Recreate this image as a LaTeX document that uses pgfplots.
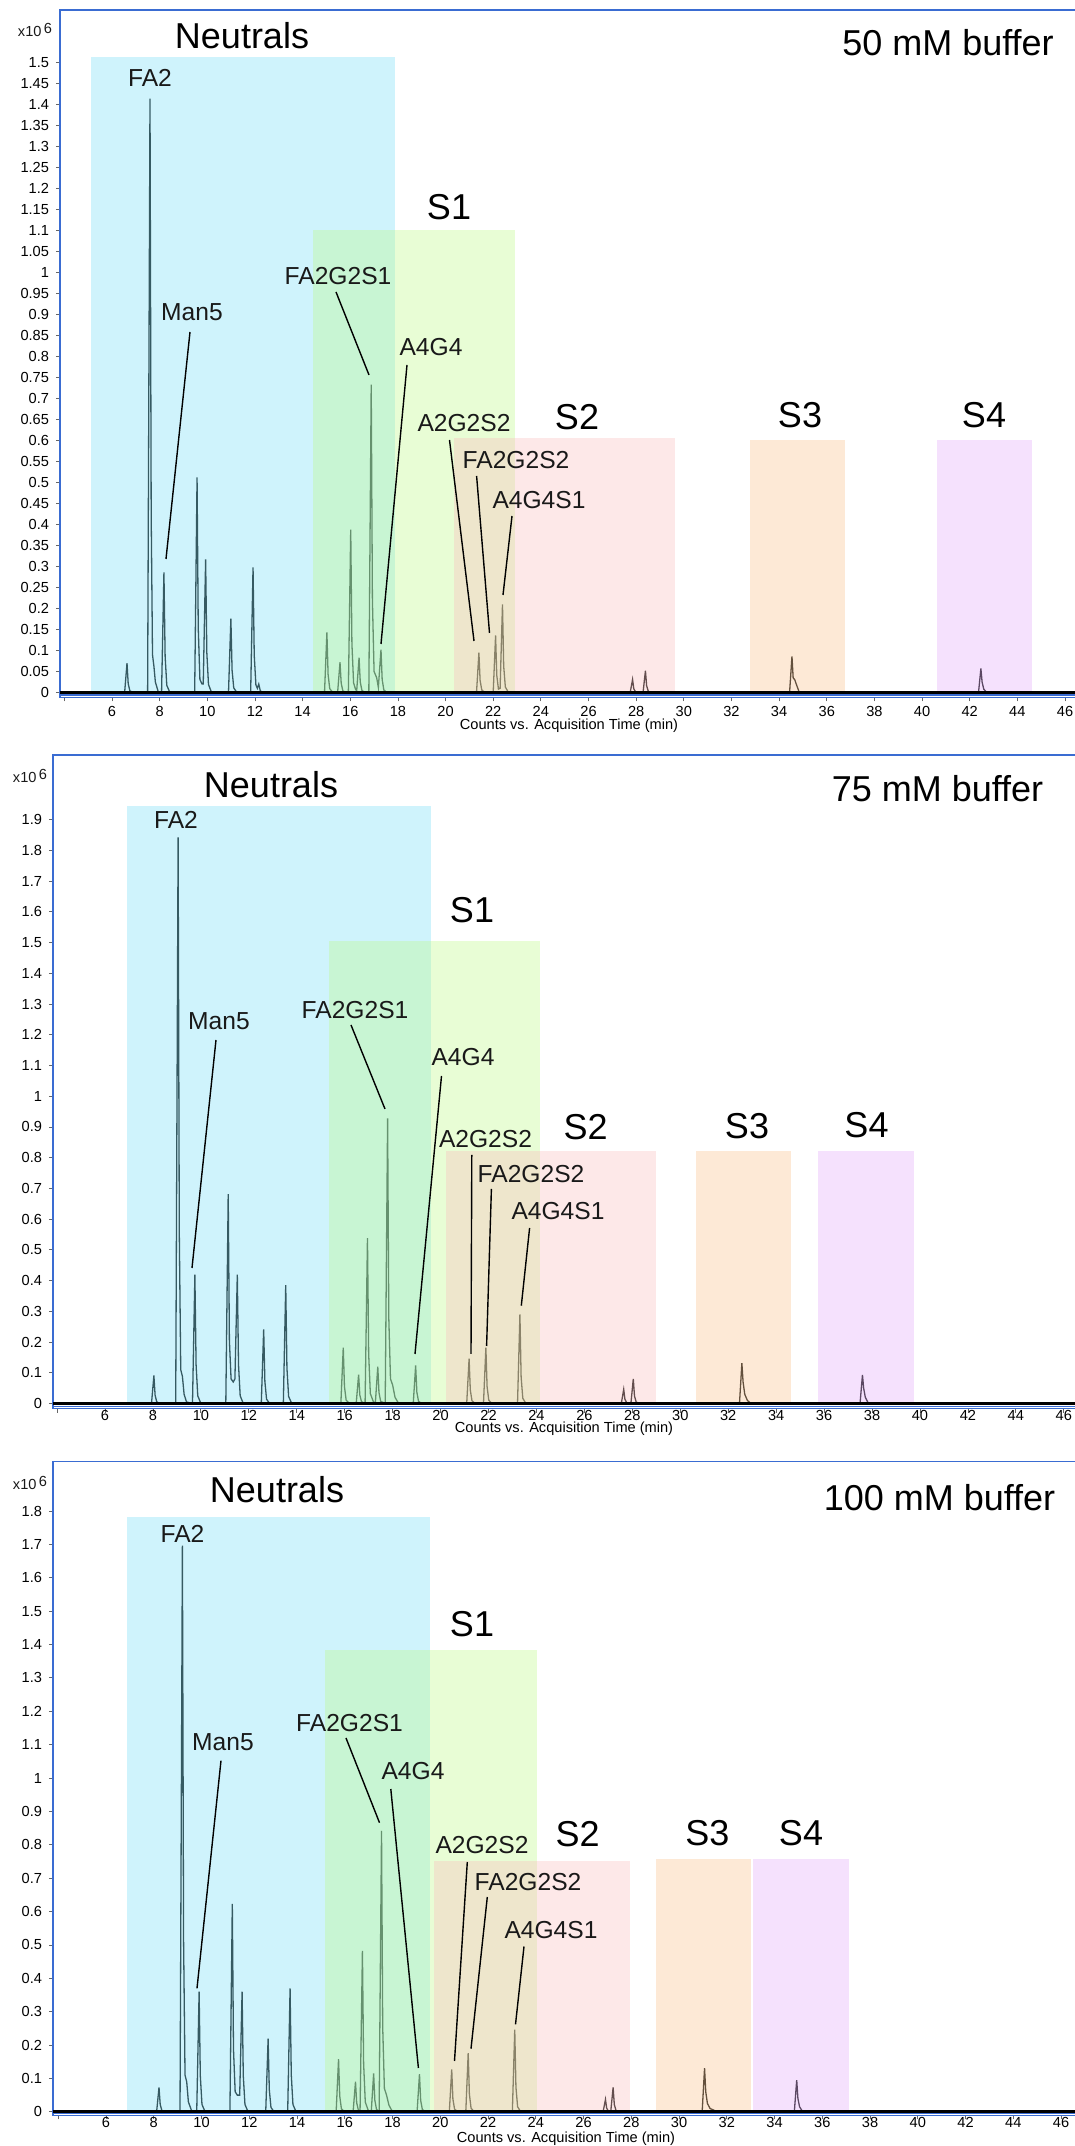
\documentclass[border=0pt]{standalone}
\usepackage{pgfplots}
\pgfplotsset{compat=1.18}
\usepackage{fontspec}
\setmainfont{Liberation Sans}
\definecolor{frameblue}{RGB}{58,108,210}
\definecolor{trace}{RGB}{20,20,20}
\definecolor{cN}{RGB}{118,221,246}
\definecolor{cSa}{RGB}{189,249,135}
\definecolor{cSb}{RGB}{249,189,189}
\definecolor{cSc}{RGB}{249,192,138}
\definecolor{cSd}{RGB}{226,169,249}
\definecolor{txt}{RGB}{25,25,25}
\newcommand{\pk}{\fontsize{12.3}{14}\selectfont}
\newcommand{\bg}{\fontsize{18}{20}\selectfont}
\newcommand{\sm}{\fontsize{7.3}{8}\selectfont}
\pgfplotsset{panel/.style={
  scale only axis, anchor=south west,
  axis line style={draw=frameblue, line width=0.7pt},
  tick align=outside, xtick pos=bottom, ytick pos=left,
  major tick length=2pt,
  tick style={black!60, line width=0.4pt},
  xtick={4,6,8,10,12,14,16,18,20,22,24,26,28,30,32,34,36,38,40,42,44,46},
  xticklabels={,6,8,10,12,14,16,18,20,22,24,26,28,30,32,34,36,38,40,42,44,46},
  tick label style={font=\sm, text=black},
  /pgf/number format/assume math mode=true,
  scaled ticks=false,
}}
\begin{document}
\begin{tikzpicture}
\useasboundingbox (0,0) rectangle (537.5pt,1073pt);

% ---------------- Panel 1: 50 mM ----------------
\begin{axis}[panel, at={(30pt,724.35pt)}, width=508.5pt, height=343.65pt,
  xmin=3.8174, xmax=46.504, ymin=-0.0114, ymax=1.625,
  xticklabel style={inner sep=0.5pt, yshift=-1.9pt},
  ytick={0,0.05,0.1,0.15,0.2,0.25,0.3,0.35,0.4,0.45,0.5,0.55,0.6,0.65,0.7,0.75,0.8,0.85,0.9,0.95,1,1.05,1.1,1.15,1.2,1.25,1.3,1.35,1.4,1.45,1.5},
  yticklabels={0,0.05,0.1,0.15,0.2,0.25,0.3,0.35,0.4,0.45,0.5,0.55,0.6,0.65,0.7,0.75,0.8,0.85,0.9,0.95,1,1.05,1.1,1.15,1.2,1.25,1.3,1.35,1.4,1.45,1.5}]
\addplot[trace, line width=0.65pt] coordinates {
(3.82,0)
(6.53,0)(6.63,0.070)(6.68,0.021)(6.75,0.004)(6.88,0)
(7.495,0)(7.595,1.414)(7.645,0.424)(7.70,0.09)(7.76,0.062)(7.82,0.025)(7.95,0)
(8.08,0)(8.18,0.286)(8.23,0.086)(8.30,0.017)(8.43,0)
(9.47,0)(9.57,0.512)(9.62,0.154)(9.69,0.031)(9.78,0.02)(9.83,0.02)(9.93,0.317)(9.98,0.095)(10.05,0.019)(10.18,0)
(10.89,0)(10.99,0.176)(11.04,0.053)(11.11,0.011)(11.24,0)
(11.82,0)(11.92,0.298)(11.97,0.089)(12.04,0.018)(12.10,0.01)(12.16,0.02)(12.22,0.005)(12.3,0)
(14.92,0)(15.02,0.143)(15.07,0.043)(15.14,0.009)(15.27,0)
(15.47,0)(15.57,0.072)(15.62,0.022)(15.69,0.004)(15.82,0)
(15.92,0)(16.02,0.388)(16.07,0.116)(16.14,0.023)(16.22,0.008)
(16.27,0.004)(16.37,0.083)(16.42,0.025)(16.49,0.005)(16.62,0)
(16.78,0)(16.88,0.733)(16.93,0.22)(17.00,0.05)(17.11,0.035)(17.18,0.012)
(17.29,0.102)(17.34,0.031)(17.41,0.006)(17.54,0)
(21.3,0)(21.4,0.095)(21.45,0.029)(21.52,0.006)(21.65,0)
(22.0,0)(22.1,0.136)(22.15,0.041)(22.22,0.008)(22.29,0.01)
(22.39,0.21)(22.44,0.063)(22.51,0.013)(22.64,0)
(27.75,0)(27.85,0.031)(27.9,0.009)(27.97,0.002)(28.1,0)
(28.29,0)(28.39,0.052)(28.44,0.016)(28.51,0.003)(28.64,0)
(34.44,0)(34.54,0.086)(34.59,0.035)(34.66,0.03)(34.72,0.02)(34.85,0)
(42.37,0)(42.47,0.057)(42.52,0.025)(42.59,0.008)(42.72,0)
(46.5,0)};
\fill[cN, fill opacity=0.35] (axis cs:5.119,0) rectangle (axis cs:17.878,1.513);
\fill[cSa, fill opacity=0.35] (axis cs:14.437,0) rectangle (axis cs:22.915,1.101);
\fill[cSb, fill opacity=0.35] (axis cs:20.355,0) rectangle (axis cs:29.634,0.606);
\fill[cSc, fill opacity=0.35] (axis cs:32.779,0) rectangle (axis cs:36.766,0.601);
\fill[cSd, fill opacity=0.35] (axis cs:40.628,0) rectangle (axis cs:44.594,0.601);
\addplot[black, line width=1.5pt] coordinates {(3.8174,0)(46.504,0)};
\end{axis}

% ---------------- Panel 2: 75 mM ----------------
\begin{axis}[panel, at={(26.5pt,368.65pt)}, width=512pt, height=326.85pt,
  xmin=3.8306, xmax=46.551, ymin=-0.0169, ymax=2.1103,
  xticklabel style={inner sep=0.5pt, yshift=1.8pt},
  ytick={0,0.1,0.2,0.3,0.4,0.5,0.6,0.7,0.8,0.9,1,1.1,1.2,1.3,1.4,1.5,1.6,1.7,1.8,1.9},
  yticklabels={0,0.1,0.2,0.3,0.4,0.5,0.6,0.7,0.8,0.9,1,1.1,1.2,1.3,1.4,1.5,1.6,1.7,1.8,1.9}]
\addplot[trace, line width=0.65pt] coordinates {
(3.83,0)
(7.94,0)(8.04,0.091)(8.09,0.027)(8.16,0.005)(8.29,0)
(8.95,0)(9.05,1.842)(9.10,0.553)(9.16,0.11)(9.23,0.088)(9.30,0.03)(9.40,0.005)
(9.65,0)(9.75,0.419)(9.80,0.126)(9.87,0.025)(10.0,0)
(11.04,0)(11.14,0.681)(11.19,0.204)(11.26,0.08)(11.35,0.07)(11.42,0.08)
(11.52,0.419)(11.57,0.126)(11.64,0.025)(11.77,0)
(12.52,0)(12.62,0.241)(12.67,0.072)(12.74,0.014)(12.87,0)
(13.44,0)(13.54,0.385)(13.59,0.116)(13.66,0.023)(13.79,0)
(15.84,0)(15.94,0.182)(15.99,0.055)(16.06,0.011)(16.19,0)
(16.48,0)(16.58,0.094)(16.63,0.028)(16.70,0.006)(16.78,0.003)
(16.85,0)(16.95,0.538)(17.00,0.161)(17.07,0.032)(17.2,0.005)
(17.28,0.003)(17.38,0.12)(17.43,0.036)(17.5,0.007)(17.62,0.003)
(17.69,0)(17.79,0.928)(17.84,0.278)(17.91,0.08)(18.0,0.06)(18.1,0.02)(18.25,0)
(18.86,0)(18.96,0.124)(19.01,0.037)(19.08,0.007)(19.21,0)
(21.09,0)(21.19,0.146)(21.24,0.044)(21.31,0.009)(21.44,0)
(21.79,0)(21.89,0.182)(21.94,0.055)(22.01,0.011)(22.14,0)
(23.21,0)(23.31,0.29)(23.36,0.087)(23.43,0.017)(23.56,0)
(27.54,0)(27.64,0.046)(27.69,0.014)(27.76,0.003)(27.86,0.002)
(27.94,0)(28.04,0.08)(28.09,0.024)(28.16,0.005)(28.29,0)
(32.47,0)(32.57,0.131)(32.62,0.07)(32.69,0.03)(32.8,0.01)(32.95,0)
(37.5,0)(37.6,0.093)(37.65,0.05)(37.72,0.02)(37.85,0)
(46.55,0)};
\fill[cN, fill opacity=0.35] (axis cs:6.93,0) rectangle (axis cs:19.58,1.944);
\fill[cSa, fill opacity=0.35] (axis cs:15.34,0) rectangle (axis cs:24.13,1.505);
\fill[cSb, fill opacity=0.35] (axis cs:20.23,0) rectangle (axis cs:28.98,0.822);
\fill[cSc, fill opacity=0.35] (axis cs:30.66,0) rectangle (axis cs:34.61,0.822);
\fill[cSd, fill opacity=0.35] (axis cs:35.75,0) rectangle (axis cs:39.73,0.822);
\addplot[black, line width=1.5pt] coordinates {(3.8306,0)(46.551,0)};
\end{axis}

% ---------------- Panel 3: 100 mM ----------------
\begin{axis}[panel, at={(26.5pt,15.35pt)}, width=512pt, height=326.85pt,
  xmin=3.780, xmax=46.67, ymin=-0.0105, ymax=1.948,
  xticklabel style={inner sep=0.5pt, yshift=1.8pt},
  ytick={0,0.1,0.2,0.3,0.4,0.5,0.6,0.7,0.8,0.9,1,1.1,1.2,1.3,1.4,1.5,1.6,1.7,1.8},
  yticklabels={0,0.1,0.2,0.3,0.4,0.5,0.6,0.7,0.8,0.9,1,1.1,1.2,1.3,1.4,1.5,1.6,1.7,1.8}]
\addplot[trace, line width=0.65pt] coordinates {
(3.78,0)
(8.12,0)(8.22,0.073)(8.27,0.022)(8.34,0.004)(8.47,0)
(9.10,0)(9.20,1.696)(9.25,0.509)(9.31,0.11)(9.38,0.09)(9.45,0.03)(9.6,0)
(9.80,0)(9.90,0.36)(9.95,0.108)(10.02,0.022)(10.15,0)
(11.19,0)(11.29,0.623)(11.34,0.187)(11.41,0.06)(11.50,0.05)(11.6,0.05)
(11.70,0.36)(11.75,0.108)(11.82,0.022)(11.95,0)
(12.69,0)(12.79,0.219)(12.84,0.066)(12.91,0.013)(13.04,0)
(13.61,0)(13.71,0.37)(13.76,0.111)(13.83,0.022)(13.96,0)
(15.64,0)(15.74,0.158)(15.79,0.047)(15.86,0.009)(15.99,0)
(16.35,0)(16.45,0.09)(16.5,0.027)(16.57,0.005)(16.64,0)
(16.74,0.482)(16.79,0.145)(16.86,0.029)(16.99,0.003)
(17.11,0)(17.21,0.115)(17.26,0.035)(17.33,0.007)(17.44,0)
(17.54,0.842)(17.59,0.253)(17.66,0.07)(17.75,0.05)(17.85,0.02)(18.0,0)
(19.03,0)(19.13,0.113)(19.18,0.034)(19.25,0.007)(19.38,0)
(20.38,0)(20.48,0.127)(20.53,0.038)(20.60,0.008)(20.73,0)
(21.07,0)(21.17,0.176)(21.22,0.053)(21.29,0.011)(21.42,0)
(23.02,0)(23.12,0.246)(23.17,0.074)(23.24,0.015)(23.37,0)
(26.82,0)(26.92,0.037)(26.97,0.011)(27.04,0.002)(27.14,0)
(27.24,0.073)(27.29,0.022)(27.36,0.004)(27.49,0)
(30.97,0)(31.07,0.131)(31.12,0.06)(31.19,0.025)(31.3,0.01)(31.45,0.005)(31.6,0)
(34.83,0)(34.93,0.095)(34.98,0.04)(35.05,0.015)(35.18,0)
(46.67,0)};
\fill[cN, fill opacity=0.35] (axis cs:6.90,0) rectangle (axis cs:19.59,1.783);
\fill[cSa, fill opacity=0.35] (axis cs:15.17,0) rectangle (axis cs:24.05,1.384);
\fill[cSb, fill opacity=0.35] (axis cs:19.73,0) rectangle (axis cs:27.95,0.752);
\fill[cSc, fill opacity=0.35] (axis cs:29.05,0) rectangle (axis cs:33.02,0.758);
\fill[cSd, fill opacity=0.35] (axis cs:33.10,0) rectangle (axis cs:37.12,0.758);
\addplot[black, line width=1.5pt] coordinates {(3.780,0)(46.67,0)};
\end{axis}

% ---------------- Annotations (pixel coordinates) ----------------
\begin{scope}[x=0.5pt, y=-0.5pt, yshift=1073pt, text=txt]
% second (upper) bottom frame lines
\draw[frameblue, line width=0.6pt] (60,695) -- (1077,695);
\draw[frameblue, line width=0.6pt] (53,1406.7) -- (1077,1406.7);
\draw[frameblue, line width=0.6pt] (53,2113.3) -- (1077,2113.3);
% x10^6 labels
\node[font=\sm] at (35,30) {x10\,\raisebox{0.5ex}{6}};
\node[font=\sm] at (30,776) {x10\,\raisebox{0.5ex}{6}};
\node[font=\sm] at (30,1483) {x10\,\raisebox{0.5ex}{6}};
% axis titles
\node[font=\sm, text=black, inner sep=0pt] at (569,726) {Counts vs. Acquisition Time (min)};
\node[font=\sm, text=black, inner sep=0pt] at (564,1429) {Counts vs. Acquisition Time (min)};
\node[font=\sm, text=black, inner sep=0pt] at (566,2139) {Counts vs. Acquisition Time (min)};

% ---- panel 1 ----
\node[font=\bg, text=black] at (242,36) {Neutrals};
\node[font=\bg, text=black] at (948,43) {50 mM buffer};
\node[font=\bg, text=black] at (449,207) {S1};
\node[font=\bg, text=black] at (577,417) {S2};
\node[font=\bg, text=black] at (800,415) {S3};
\node[font=\bg, text=black] at (984,415) {S4};
\node[font=\pk] at (150,78) {FA2};
\node[font=\pk] at (192,312) {Man5};
\node[font=\pk] at (338,276) {FA2G2S1};
\node[font=\pk] at (431,347) {A4G4};
\node[font=\pk] at (464,423) {A2G2S2};
\node[font=\pk] at (516,460) {FA2G2S2};
\node[font=\pk] at (539,500) {A4G4S1};
\begin{scope}[line width=0.7pt, black]
\draw (190,332) -- (166,559);
\draw (336,292) -- (369,375);
\draw (407,365) -- (381,644);
\draw (449.5,440) -- (474,641);
\draw (476.6,476) -- (489.5,633);
\draw (512,516) -- (503,595);
\end{scope}

% ---- panel 2 ----
\node[font=\bg, text=black] at (271,785) {Neutrals};
\node[font=\bg, text=black] at (937.5,789) {75 mM buffer};
\node[font=\bg, text=black] at (472,910) {S1};
\node[font=\bg, text=black] at (585.6,1127) {S2};
\node[font=\bg, text=black] at (747,1126) {S3};
\node[font=\bg, text=black] at (866.5,1125) {S4};
\node[font=\pk] at (176,820) {FA2};
\node[font=\pk] at (219,1021) {Man5};
\node[font=\pk] at (355,1010) {FA2G2S1};
\node[font=\pk] at (463,1057) {A4G4};
\node[font=\pk] at (485.5,1139) {A2G2S2};
\node[font=\pk] at (531,1174.5) {FA2G2S2};
\node[font=\pk] at (558,1211) {A4G4S1};
\begin{scope}[line width=0.7pt, black]
\draw (216,1040) -- (192,1268);
\draw (351,1025) -- (385,1109);
\draw (441.5,1076) -- (415,1354);
\draw (471.8,1155) -- (471,1354);
\draw (491.4,1189) -- (486.6,1346);
\draw (529.6,1228) -- (521.3,1305.7);
\end{scope}

% ---- panel 3 ----
\node[font=\bg, text=black] at (277,1490) {Neutrals};
\node[font=\bg, text=black] at (939.5,1497.6) {100 mM buffer};
\node[font=\bg, text=black] at (472,1624.6) {S1};
\node[font=\bg, text=black] at (577.6,1834) {S2};
\node[font=\bg, text=black] at (707.3,1833) {S3};
\node[font=\bg, text=black] at (801,1833) {S4};
\node[font=\pk] at (182.5,1533.6) {FA2};
\node[font=\pk] at (223,1741.7) {Man5};
\node[font=\pk] at (349.5,1722.8) {FA2G2S1};
\node[font=\pk] at (413,1771) {A4G4};
\node[font=\pk] at (482,1845) {A2G2S2};
\node[font=\pk] at (528,1882) {FA2G2S2};
\node[font=\pk] at (551,1930) {A4G4S1};
\begin{scope}[line width=0.7pt, black]
\draw (221,1760.6) -- (197,1988.4);
\draw (346,1738) -- (379.5,1822.7);
\draw (390.8,1789) -- (418.4,2068);
\draw (467.3,1862) -- (454.5,2061);
\draw (487.3,1897) -- (471,2048.7);
\draw (524,1946.5) -- (515.5,2024.4);
\end{scope}
\end{scope}
\end{tikzpicture}
\end{document}
